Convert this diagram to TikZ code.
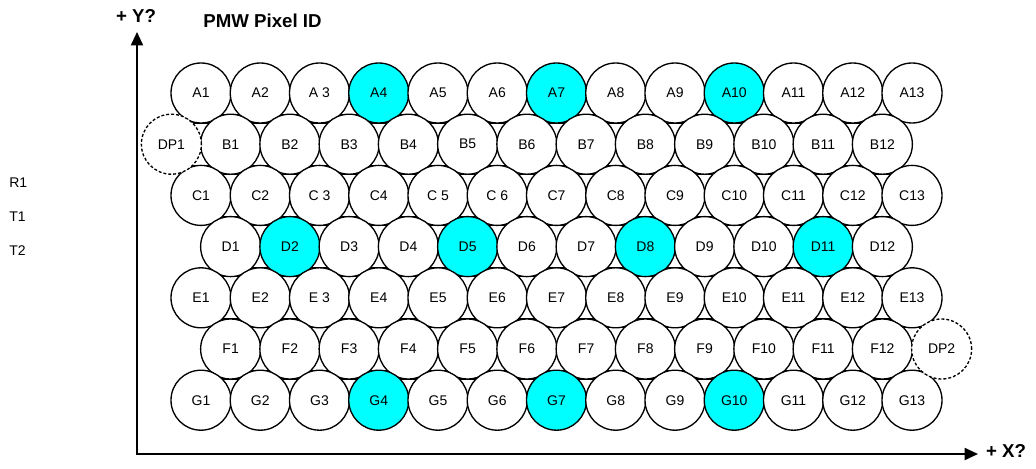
\documentclass[tikz,border=0pt]{standalone}
\usepackage{fontspec}
\setmainfont{Liberation Sans}
\usetikzlibrary{arrows.meta}
\definecolor{pixcyan}{RGB}{0,255,255}
\def\sethot#1{\expandafter\def\csname H@#1\endcsname{}}
\sethot{A4}\sethot{A7}\sethot{A10}
\sethot{D2}\sethot{D5}\sethot{D8}\sethot{D11}
\sethot{G4}\sethot{G7}\sethot{G10}
\expandafter\def\csname L@A3\endcsname{A 3}
\expandafter\def\csname L@C3\endcsname{C 3}
\expandafter\def\csname L@C5\endcsname{C 5}
\expandafter\def\csname L@C6\endcsname{C 6}
\expandafter\def\csname L@E3\endcsname{E 3}
\def\lbl#1{\ifcsname L@#1\endcsname\csname L@#1\endcsname\else#1\fi}
\begin{document}
\begin{tikzpicture}[x=0.75pt,y=-0.75pt,
  cell/.style={circle,draw=black,line width=1pt,minimum size=45pt,inner sep=0pt,
               font=\fontsize{10.5}{12}\selectfont},
  dpcell/.style={cell,fill=white,dash pattern=on 2.2pt off 1.5pt},
  seam/.style={draw=black,line width=1pt},
  axisline/.style={draw=black,line width=1.4pt,line cap=rect,-{Triangle[length=10pt,width=9pt]}},
  ttl/.style={font=\bfseries\fontsize{14}{16}\selectfont,inner sep=0pt},
  side/.style={font=\fontsize{10.5}{12}\selectfont,inner sep=0pt,anchor=west}]
\useasboundingbox (0,0) rectangle (1036,468);
% seams visible in the gaps between the pixels
\foreach \r/\ka/\kb/\s/\odd in {0/0/11/1/0, 1/0/11/-1/1, 1/0/11/1/1, 2/0/11/-1/0, 2/1/11/1/0,
    3/0/11/-1/1, 3/0/11/1/1, 4/1/11/-1/0, 4/1/12/1/0, 5/0/11/-1/1, 5/0/11/1/1, 6/1/12/-1/0}
  \foreach \k in {\ka,...,\kb}
    \draw[seam] ({201+59.25*(\k+0.5*\odd)-29.625},{93+51.2*\r+30*\s}) -- ++(59.25,0);
% pixels
\foreach \row/\r/\odd/\last in {A/0/0/12, B/1/1/11, C/2/0/12, D/3/1/11, E/4/0/12, F/5/1/11, G/6/0/12}
  \foreach \k in {0,...,\last} {
    \pgfmathtruncatemacro\n{\k+1}
    \ifcsname H@\row\n\endcsname\def\fc{pixcyan}\else\def\fc{white}\fi
    \node[cell,fill=\fc] (\row\n) at ({201+59.25*(\k+0.5*\odd)},{93+51.2*\r}) {\lbl{\row\n}};
  }
\node[dpcell] (DP1) at ({201-29.625},{93+51.2}) {DP1};
\node[dpcell] (DP2) at ({201+59.25*12.5},{93+51.2*5}) {DP2};
% axes
\coordinate (O) at (137,454);
\coordinate (Ytip) at (137,32);
\coordinate (Xtip) at (978,454);
\draw[axisline] (O) -- (Ytip);
\draw[axisline] (O) -- (Xtip);
\node[ttl] (ylab) at (136,16) {+ Y?};
\node[ttl] (xlab) at (1006,450.5) {+ X?};
\node[ttl] (title) at (262.5,21) {PMW Pixel ID};
\node[side] (R1) at (9,183) {R1};
\node[side] (T1) at (9,217) {T1};
\node[side] (T2) at (9,251) {T2};
\end{tikzpicture}
\end{document}
